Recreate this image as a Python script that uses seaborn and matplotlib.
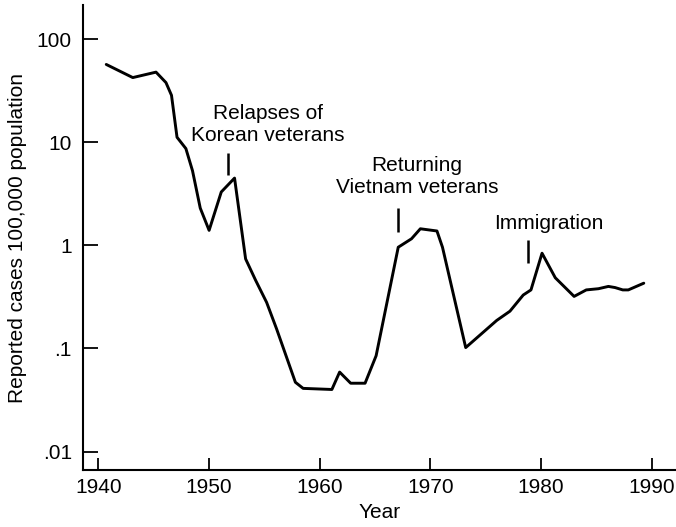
import numpy as np
import pandas as pd
import matplotlib
matplotlib.use("Agg")
import matplotlib.pyplot as plt
import seaborn as sns


# Data
years = [1940.7, 1943.1, 1945.2, 1946.1, 1946.6, 1947.1, 1947.9, 1948.5, 1949.2,
         1950.0, 1951.1, 1952.3, 1953.3, 1954.2, 1955.2, 1956.1, 1957.8, 1958.5,
         1961.1, 1961.8, 1962.8, 1964.1, 1965.1, 1967.1, 1968.3, 1969.1, 1970.6,
         1971.1, 1973.2, 1976.0, 1977.2, 1978.4, 1979.1, 1980.1, 1981.3, 1983.0,
         1984.1, 1985.2, 1986.1, 1986.7, 1987.4, 1987.9, 1989.3]
cases = [57, 42.5, 48, 38, 28.6, 11.2, 8.7, 5.3, 2.3,
         1.4, 3.3, 4.5, 0.74, 0.46, 0.28, 0.155, 0.047, 0.041,
         0.040, 0.059, 0.046, 0.046, 0.085, 0.96, 1.16, 1.45, 1.38,
         0.96, 0.102, 0.187, 0.23, 0.33, 0.37, 0.84, 0.485, 0.32,
         0.37, 0.38, 0.40, 0.39, 0.37, 0.37, 0.43]

# annotation text, text position, marker year and marker span
notes = ["Relapses of\nKorean veterans", "Returning\nVietnam veterans", "Immigration"]
note_x = [1955.3, 1968.8, 1980.7]
note_y = [15, 4.7, 1.64]
mark_x = [1951.7, 1967.1, 1978.8]
mark_lo = [4.8, 1.34, 0.68]
mark_hi = [7.8, 2.29, 1.12]

xticks = [1940, 1950, 1960, 1970, 1980, 1990]
yticks = [100, 10, 1, 0.1, 0.01]
ytick_labels = ["100", "10", "1", ".1", ".01"]

df = pd.DataFrame({"Year": years, "Cases": cases})

sns.set_style("ticks")
plt.rcParams["font.family"] = ["Liberation Sans", "DejaVu Sans"]
plt.rcParams["text.color"] = "black"
plt.rcParams["axes.labelcolor"] = "black"
plt.rcParams["xtick.color"] = "black"
plt.rcParams["ytick.color"] = "black"

fig = plt.figure(figsize=(6.76, 5.27), dpi=100)
ax = fig.add_axes([0.1228, 0.108, 0.877, 0.882])

sns.lineplot(data=df, x="Year", y="Cases", color="black", linewidth=2.1, ax=ax)
ax.set_yscale("log")
ax.set_xlim(1938.6, 1992.2)
ax.set_ylim(10 ** -2.18, 10 ** 2.33)

for t, tx, ty in zip(notes, note_x, note_y):
    ax.text(tx, ty, t, ha="center", va="center", fontsize=15, linespacing=1.2)
ax.vlines(mark_x, mark_lo, mark_hi, color="black", linewidth=1.8)

ax.set_xticks(xticks)
ax.set_xticklabels([str(x) for x in xticks])
ax.set_yticks(yticks)
ax.set_yticklabels(ytick_labels)
ax.yaxis.set_minor_locator(matplotlib.ticker.NullLocator())
ax.tick_params(direction="in", length=9, width=1.3, labelsize=15, pad=6)
ax.tick_params(axis="y", length=11, pad=8)

for side in ["top", "right"]:
    ax.spines[side].set_visible(False)
for side in ["left", "bottom"]:
    ax.spines[side].set_linewidth(1.5)
    ax.spines[side].set_color("black")

ax.set_xlabel("Year", fontsize=15, labelpad=4)
ax.set_ylabel("Reported cases 100,000 population", fontsize=15, labelpad=7)

fig.savefig("out.png", dpi=100)
